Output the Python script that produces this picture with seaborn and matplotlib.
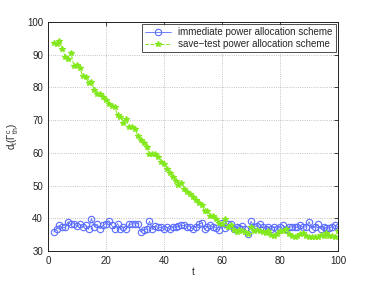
# Power allocation comparison: d_t over time for the two schemes

import numpy as np
import pandas as pd
import matplotlib
matplotlib.use("Agg")
import matplotlib.pyplot as plt
import seaborn as sns

# time steps (2..100)
t = list(range(2, 101))

# immediate power allocation scheme (blue circles)
immediate = [
    35.8, 36.8, 37.8, 37.2, 37.2, 38.9, 38.1, 38.4, 37.6, 38.1,
    37.4, 37.8, 36.6, 39.9, 37.4, 38.1, 36.8, 37.8, 38.4, 39.3,
    37.8, 36.8, 38.4, 36.6, 37.4, 36.8, 38.1, 38.3, 38.3, 38.4,
    35.8, 36.4, 36.6, 39.1, 36.6, 37.6, 37.2, 37.2, 36.8, 37.2,
    36.8, 37.2, 37.4, 37.6, 37.8, 37.8, 37.4, 37.4, 36.8, 37.4,
    38.1,
    38.6, 36.6, 37.4, 37.8, 37.4, 37.0, 36.4, 38.5, 36.9, 38.3,
    38.1, 36.8, 37.4, 37.0, 37.6, 36.6, 35.2, 39.1, 37.4, 37.6,
    38.1, 37.2, 36.8, 37.2, 36.8, 37.4, 36.8, 37.4, 37.8, 36.8,
    37.2, 37.4, 37.4, 37.2, 37.8, 37.2, 37.4, 38.9, 36.8, 37.4,
    38.1, 36.8, 37.2, 37.0, 37.0, 37.4, 37.8, 37.4,
]

# save-test power allocation scheme (green stars)
save_test = [
    93.6, 93.1, 94.0, 91.8, 89.3, 88.7, 90.4, 86.5, 86.7, 85.8,
    83.4, 83.0, 81.4, 81.5, 79.2, 78.1, 77.9, 77.1, 76.1, 74.9,
    74.3, 74.1, 71.5, 71.0, 69.2, 70.2, 68.0, 67.8, 67.2, 65.1,
    64.0, 62.9, 61.8, 59.6, 59.6, 59.6, 58.8, 57.2, 56.6, 55.0,
    53.7, 52.7, 51.5, 50.2, 50.9, 49.0, 48.0, 47.4, 46.4, 45.6,
    44.7, 44.1, 42.1, 42.1, 40.7, 40.7, 39.7, 38.5, 38.4, 39.7,
    37.4, 37.9, 36.4, 35.9, 36.4, 36.2, 35.9, 35.2, 37.4, 36.2,
    36.4, 36.0, 35.8, 35.4, 36.2, 35.0, 34.6, 35.2, 36.2, 36.2,
    36.6, 35.1, 34.6, 34.2, 34.6, 35.1, 35.4, 34.6, 34.2, 34.4,
    34.2, 34.4, 35.0, 34.6, 35.4, 34.6, 34.6, 34.2, 36.0,
]

data = pd.DataFrame({"t": t, "immediate": immediate, "save_test": save_test})

sns.set_style("white")
plt.rcParams["font.family"] = ["Liberation Sans", "DejaVu Sans"]
plt.rcParams["mathtext.fontset"] = "custom"
plt.rcParams["mathtext.rm"] = "Liberation Sans"

fig = plt.figure(figsize=(3.74, 2.83), dpi=100)
ax = fig.add_axes([0.128, 0.113, 0.776, 0.81])

sns.lineplot(data=data, x="t", y="immediate", ax=ax, color="#5a6cff",
             marker="o", markersize=4.6, markerfacecolor="none",
             markeredgecolor="#5a6cff", markeredgewidth=0.8, linewidth=0.6,
             label="immediate power allocation scheme")
sns.lineplot(data=data, x="t", y="save_test", ax=ax, color="#84e81e",
             marker="*", markersize=3.8, markeredgecolor="#84e81e",
             markeredgewidth=0.9, linewidth=0.7, linestyle="--",
             label="save\u2212test power allocation scheme")

ax.set_xlim(0, 100)
ax.set_ylim(30, 100)
ax.set_xticks(range(0, 101, 20))
ax.set_yticks(range(30, 101, 10))
ax.grid(True, linestyle=":", color="#b0b0b0", linewidth=0.6)
ax.tick_params(direction="in", length=3, labelsize=7, colors="#222222",
               top=True, right=True, width=0.6)
for side in ax.spines.values():
    side.set_color("#222222")
    side.set_linewidth(0.7)

ax.set_xlabel("t", fontsize=7, labelpad=1)
ax.set_ylabel(r"$\mathrm{d_t(\Gamma_{th}^{c})}$", fontsize=7, labelpad=4)

leg = ax.legend(loc="upper right", fontsize=7, frameon=True, fancybox=False,
                borderpad=0.3, labelspacing=0.2, handlelength=2.6,
                borderaxespad=0.25)
leg.get_frame().set_edgecolor("#222222")
leg.get_frame().set_linewidth(0.7)

fig.savefig("out.png", dpi=100)
